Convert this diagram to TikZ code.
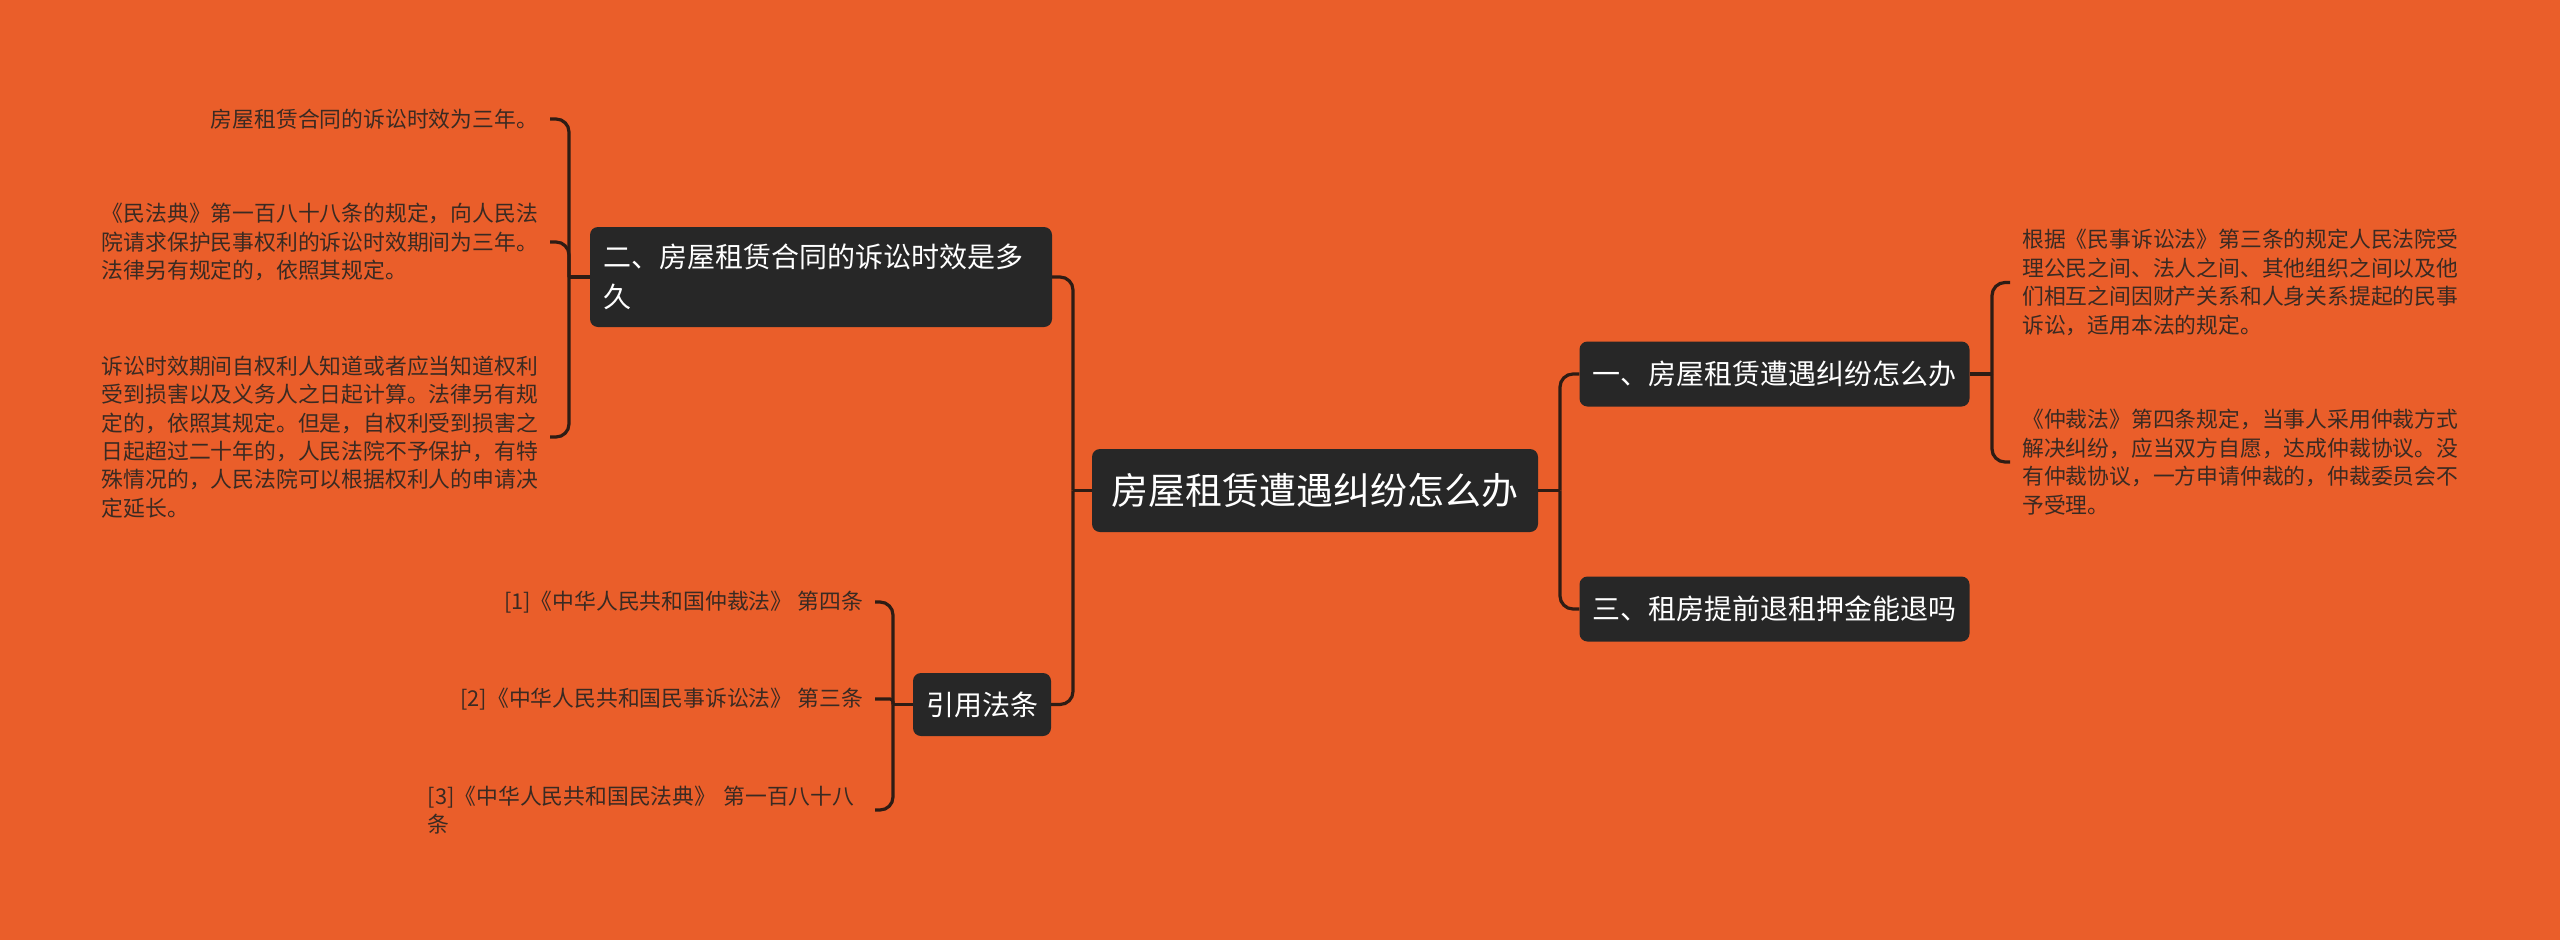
\documentclass[tikz,border=0pt]{standalone}
\usepackage{fontspec}
\setmainfont{Noto Sans CJK SC}
\definecolor{bgorange}{HTML}{EA5E2A}
\definecolor{nodebg}{HTML}{272727}
\definecolor{linkc}{HTML}{2E1C14}
\definecolor{leaftxt}{HTML}{3A2A22}
\begin{document}
\begin{tikzpicture}[
    x=1pt, y=-1pt,
    topic/.style={fill=nodebg, text=white, rounded corners=8pt, inner xsep=13pt, inner ysep=0pt},
    root/.style={topic, minimum width=446pt, minimum height=83pt, font=\fontsize{37}{44}\selectfont},
    branch/.style={topic, minimum height=65pt, font=\fontsize{28}{34}\selectfont},
    leaf/.style={text=leaftxt, align=left, inner xsep=12pt, inner ysep=0pt, font=\fontsize{21.8}{28.4}\selectfont},
    link/.style={draw=linkc, line width=3.2pt},
    brace/.style={link, rounded corners=13pt}
]

% background
\fill[bgorange] (0,0) rectangle (2560,940);
\useasboundingbox (0,0) rectangle (2560,940);

% main topic
\node[root] (root) at (1315,490.5) {房屋租赁遭遇纠纷怎么办};
\coordinate (jl) at (1073,490.5);
\coordinate (jr) at (1560,490.5);

% branches
\node[branch, minimum width=389pt] (b1) at (1774.5,374) {一、房屋租赁遭遇纠纷怎么办};
\node[branch, minimum width=389pt] (b3) at (1774.5,609) {三、租房提前退租押金能退吗};
\node[branch, minimum height=100pt, text width=436pt, align=left,
      font=\fontsize{28}{40}\selectfont] (b2) at (821,277) {二、房屋租赁合同的诉讼时效是多\\久};
\node[branch, minimum width=137pt, minimum height=63pt] (b4) at (982,704.5) {引用法条};

\draw[link] (root.west) -- (jl);
\draw[brace] (jl) |- (b2.east);
\draw[brace] (jl) |- (b4.east);
\draw[link] (root.east) -- (jr);
\draw[brace] (jr) |- (b1.west);
\draw[brace] (jr) |- (b3.west);

% leaves of branch one
\coordinate (jb1) at (1992,374);
\node[leaf, anchor=west] (r1) at (2010,282.5) {根据《民事诉讼法》第三条的规定人民法院受\\理公民之间、法人之间、其他组织之间以及他\\们相互之间因财产关系和人身关系提起的民事\\诉讼，适用本法的规定。};
\node[leaf, anchor=west] (r2) at (2010,462) {《仲裁法》第四条规定，当事人采用仲裁方式\\解决纠纷，应当双方自愿，达成仲裁协议。没\\有仲裁协议，一方申请仲裁的，仲裁委员会不\\予受理。};
\draw[link] (b1.east) -- (jb1);
\draw[brace] (jb1) |- (r1.west);
\draw[brace] (jb1) |- (r2.west);

% leaves of branch two
\coordinate (jb2) at (569,277);
\node[leaf, anchor=east] (l1) at (550,119) {房屋租赁合同的诉讼时效为三年。};
\node[leaf, anchor=east] (l2) at (550,242) {《民法典》第一百八十八条的规定，向人民法\\院请求保护民事权利的诉讼时效期间为三年。\\法律另有规定的，依照其规定。};
\node[leaf, anchor=east] (l3) at (550,437) {诉讼时效期间自权利人知道或者应当知道权利\\受到损害以及义务人之日起计算。法律另有规\\定的，依照其规定。但是，自权利受到损害之\\日起超过二十年的，人民法院不予保护，有特\\殊情况的，人民法院可以根据权利人的申请决\\定延长。};
\draw[link] (b2.west) -- (jb2);
\draw[brace] (jb2) |- (l1.east);
\draw[brace] (jb2) |- (l2.east);
\draw[brace] (jb2) |- (l3.east);

% cited articles
\coordinate (jb4) at (893,704.5);
\node[leaf, anchor=east] (c1) at (875,602) {[1]《中华人民共和国仲裁法》 第四条};
\node[leaf, anchor=east] (c2) at (875,699) {[2]《中华人民共和国民事诉讼法》 第三条};
\node[leaf, anchor=east, text width=435pt] (c3) at (875,810) {[3]《中华人民共和国民法典》 第一百八十八\\条};
\draw[link] (b4.west) -- (jb4);
\draw[brace] (jb4) |- (c1.east);
\draw[link, rounded corners=3pt] (jb4) |- (c2.east);
\draw[brace] (jb4) |- (c3.east);

\end{tikzpicture}
\end{document}
